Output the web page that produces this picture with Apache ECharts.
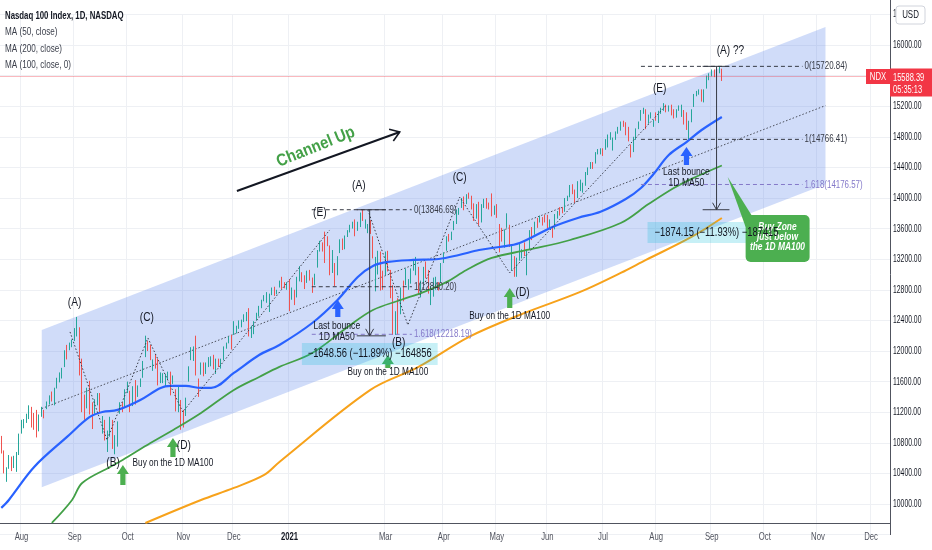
<!DOCTYPE html>
<html><head><meta charset="utf-8">
<script src="https://cdn.jsdelivr.net/npm/echarts@6/dist/echarts.min.js"></script>
<style>html,body{margin:0;padding:0;background:#fff}#c{width:932px;height:550px}</style>
</head><body><div id="c"></div>
<script>
// ---------- DATA ----------
const holidays = ['2020-09-07','2020-11-26','2020-12-25','2021-01-01','2021-01-18','2021-02-15','2021-04-02','2021-05-31','2021-07-05','2021-09-06','2021-11-25'];
const firstDay = [2020, 6, 22];
const barCount = 352;
const monthNames = ['Jan','Feb','Mar','Apr','May','Jun','Jul','Aug','Sep','Oct','Nov','Dec'];
const hiddenMonthLabels = ['2021-02'];
const yTicks = [10000,10400,10800,11200,11600,12000,12400,12800,13200,13600,14000,14400,14800,15200,15600,16000,16400];

// daily [open, close, low, high]
const jul20 = [[10760,10700,10660,10890],[10680,10420,10400,10700],[10350,10460,10290,10480],[10480,10610,10460,10640],[10600,10450,10430,10620],[10480,10600,10470,10630],[10500,10640,10420,10680],[10780,10910,10640,10920]];
const aug20 = [[10940,11060,10920,11100],[11030,11090,10990,11110],[11120,11140,11060,11180],[11130,11270,11110,11290],[11250,11140,11000,11270],[11180,11110,10970,11190],[11150,10880,10870,11230],[10960,11150,10950,11170],[11170,11200,11140,11270],[11200,11190,11120,11230],[11250,11320,11240,11340],[11340,11410,11300,11420],[11410,11360,11340,11470],[11300,11500,11290,11520],[11530,11620,11510,11650],[11680,11690,11590,11720],[11690,11770,11640,11780],[11800,12000,11790,12010],[12030,12020,11890,12080],[12050,12080,12010,12110],[12090,12110,12050,12150]];
const sep20 = [[12160,12290,12130,12300],[12320,12420,12190,12445],[12300,11770,11680,12310],[11750,11620,11200,11900],[11380,11140,11100,11430],[11280,11450,11250,11520],[11520,11210,11170,11610],[11280,11090,10980,11330],[11230,11230,11180,11370],[11330,11370,11290,11450],[11400,11220,11200,11450],[11030,11080,10920,11150],[11080,10940,10830,11100],[10800,10940,10680,10960],[10980,11120,10880,11140],[11090,10740,10720,11100],[10700,10810,10650,10900],[10800,11060,10750,11080],[11230,11300,11180,11330],[11290,11260,11200,11330],[11300,11420,11270,11500]];
const oct20 = [[11520,11560,11450,11600],[11380,11250,11200,11480],[11290,11530,11280,11540],[11550,11330,11300,11620],[11420,11530,11400,11550],[11580,11600,11530,11640],[11660,11860,11650,11870],[11950,12090,11920,12200],[12090,12050,12000,12130],[12060,11910,11880,12080],[11770,11860,11740,11890],[11900,11780,11770,11960],[11830,11580,11550,11900],[11640,11640,11580,11720],[11640,11640,11580,11710],[11650,11680,11530,11700],[11690,11720,11620,11730],[11670,11570,11420,11730],[11610,11650,11570,11680],[11480,11220,11210,11500],[11300,11400,11200,11540],[11340,11050,10970,11360]];
const nov20 = [[11120,11110,11000,11230],[11200,11320,11150,11390],[11620,11770,11600,11800],[11920,12000,11880,12050],[11980,12010,11870,12060],[12180,11700,11680,12200],[11580,11550,11400,11640],[11700,11800,11690,11850],[11790,11720,11670,11850],[11760,11830,11700,11850],[11810,11900,11790,11920],[11860,11880,11800,11930],[11900,11770,11760,11950],[11730,11880,11700,11900],[11870,11800,11790,11900],[11840,11860,11770,11900],[11920,12030,11880,12060],[12070,12080,12030,12110],[12120,12160,12100,12190],[12190,12130,12020,12210]];
const dec20 = [[12230,12320,12210,12390],[12290,12300,12230,12330],[12320,12340,12290,12400],[12330,12400,12310,12410],[12400,12450,12380,12480],[12430,12500,12390,12510],[12520,12230,12190,12560],[12190,12300,12170,12330],[12270,12380,12220,12390],[12420,12440,12400,12500],[12480,12580,12450,12590],[12590,12650,12560,12670],[12680,12710,12650,12730],[12740,12760,12630,12770],[12640,12740,12510,12750],[12750,12800,12730,12830],[12800,12730,12720,12840],[12760,12770,12740,12800],[12850,12900,12830,12920],[12930,12850,12810,12970],[12880,12850,12820,12900],[12860,12890,12800,12900]];
const jan21 = [[12920,12690,12520,12940],[12690,12800,12670,12830],[12650,12620,12600,12800],[12710,12940,12700,12970],[12990,13100,12910,13110],[13000,12930,12900,13030],[12950,12900,12810,12990],[12910,13010,12890,13050],[13020,12930,12920,13060],[12900,12800,12760,12960],[12880,13000,12860,13010],[13110,13300,13090,13320],[13340,13420,13300,13440],[13380,13370,13300,13420],[13480,13440,13150,13560],[13460,13400,13370,13500],[13370,13030,12990,13380],[13080,13150,13020,13320],[13100,12930,12850,13150]];
const feb21 = [[13000,13200,12990,13240],[13300,13400,13280,13460],[13450,13340,13320,13470],[13370,13500,13330,13510],[13540,13550,13490,13580],[13590,13640,13550,13650],[13610,13640,13600,13690],[13700,13580,13500,13720],[13640,13660,13570,13690],[13650,13800,13620,13810],[13830,13770,13700,13847],[13680,13700,13600,13720],[13620,13630,13540,13660],[13690,13550,13530,13710],[13450,13220,13210,13500],[13030,13200,12780,13230],[13140,13300,13000,13310],[13230,12830,12790,13300],[12950,12900,12800,13050]];
const mar21 = [[13020,13290,12990,13300],[13290,13060,13040,13310],[13040,12700,12690,13060],[12700,12300,12210,12860],[12370,12490,12210,12520],[12520,12300,12218,12690],[12500,12790,12480,12830],[12880,12740,12650,12920],[12900,13050,12860,13080],[12900,12920,12800,12940],[12930,13070,12880,13080],[13120,13130,13050,13200],[13080,13180,12990,13230],[13080,12750,12740,13100],[12770,12870,12700,12920],[12880,13070,12880,13100],[13080,12970,12950,13170],[13030,12770,12750,13060],[12740,12800,12600,12850],[12820,12950,12710,12960],[12900,12920,12800,12970],[12880,12860,12790,12900],[12900,13090,12900,13150]];
const apr21 = [[13170,13270,13150,13290],[13320,13480,13310,13500],[13470,13470,13430,13530],[13470,13530,13450,13560],[13610,13690,13580,13700],[13680,13850,13660,13850],[13800,13850,13780,13870],[13880,13990,13870,14000],[14000,13850,13840,14020],[13930,14040,13920,14050],[14060,14040,13990,14070],[14000,13910,13850,14030],[13910,13790,13700,13930],[13750,13910,13730,13920],[13900,13680,13640,13950],[13690,13860,13680,13920],[13880,13980,13870,13990],[13990,13890,13860,14000],[13900,13890,13850,13940],[14010,13920,13760,14060],[13830,13860,13780,13900]];
const may21 = [[13900,13750,13740,13920],[13650,13500,13290,13660],[13570,13460,13430,13610],[13480,13580,13350,13590],[13620,13720,13610,13800],[13630,13370,13360,13650],[13130,13340,13050,13380],[13180,12990,12970,13240],[13080,13100,12970,13220],[13190,13400,13180,13420],[13310,13320,13210,13330],[13340,13250,13240,13420],[13050,13300,12990,13330],[13330,13540,13320,13580],[13580,13470,13450,13620],[13530,13660,13520,13690],[13720,13680,13610,13740],[13700,13740,13680,13770],[13740,13710,13640,13750],[13750,13690,13680,13780]];
const jun21 = [[13760,13650,13600,13780],[13680,13700,13600,13720],[13590,13550,13480,13610],[13600,13770,13590,13790],[13750,13820,13730,13830],[13860,13830,13770,13880],[13850,13820,13800,13880],[13850,13980,13820,14000],[13990,14020,13960,14030],[14030,14160,14010,14170],[14160,14070,14050,14180],[14090,14030,13940,14110],[14040,14200,14000,14220],[14160,14170,14090,14240],[14150,14190,14070,14200],[14190,14320,14160,14340],[14330,14350,14300,14400],[14400,14450,14380,14470],[14460,14430,14380,14470],[14460,14590,14450,14600],[14600,14610,14570,14640],[14600,14620,14570,14650]];
const jul21 = [[14630,14600,14550,14650],[14640,14760,14630,14770],[14790,14800,14660,14830],[14820,14830,14760,14860],[14700,14760,14620,14790],[14780,14850,14760,14870],[14870,14920,14840,14930],[14910,14950,14880,15000],[14990,14980,14930,15010],[14970,14870,14820,14990],[14900,14760,14740,14930],[14640,14600,14530,14700],[14640,14760,14600,14800],[14790,14900,14760,14910],[14920,14990,14900,15000],[15030,15140,15010,15150],[15130,15160,15100,15180],[15150,15000,14900,15160],[15030,15050,14970,15090],[15060,15080,15040,15120],[14960,15000,14930,15020]];
const aug21 = [[15070,15050,15010,15120],[15050,15130,14980,15140],[15120,15150,15100,15180],[15160,15230,15140,15240],[15200,15160,15120,15220],[15170,15180,15130,15210],[15200,15110,15080,15220],[15150,15080,15040,15160],[15090,15150,15050,15160],[15160,15200,15140,15210],[15170,15210,15060,15220],[15140,15060,14960,15150],[15070,14900,14890,15120],[14820,14960,14766,15010],[15000,15140,14990,15160],[15200,15340,15190,15360],[15350,15370,15330,15400],[15380,15390,15350,15420],[15380,15270,15260,15420],[15280,15400,15250,15420],[15440,15580,15430,15600],[15600,15610,15540,15630]];
const sep21 = [[15630,15630,15590,15680],[15660,15620,15580,15680],[15620,15660,15590,15690],[15660,15690,15630,15721],[15680,15588.39,15530,15690]];

// moving averages: [bar index, value]
const ma50 = [[0,9949],[3,10053],[13,10484],[26,10877],[35,11138],[40,11203],[46,11230],[55,11360],[63,11517],[67,11543],[73,11543],[79,11517],[83,11517],[92,11713],[102,11948],[110,12079],[123,12366],[133,12667],[141,12968],[147,13112],[153,13164],[163,13190],[173,13203],[181,13255],[189,13320],[197,13360],[205,13412],[218,13621],[228,13739],[237,13820],[247,13987],[253,14131],[258,14314],[264,14562],[271,14732],[277,14889],[285,15059]];
const ma100 = [[20,9752],[28,10053],[32,10275],[43,10484],[48,10576],[59,10798],[68,10968],[79,11190],[92,11491],[102,11661],[110,11792],[123,11974],[137,12314],[147,12536],[158,12667],[167,12770],[176,12900],[184,13059],[194,13216],[208,13321],[225,13451],[245,13673],[256,13920],[266,14130],[273,14250],[285,14425]];
const ma200 = [[57,9752],[79,10053],[92,10210],[104,10380],[110,10550],[146,11491],[165,11791],[185,12184],[205,12471],[229,12772],[245,13020],[255,13190],[273,13491],[285,13739]];

const lastPrice = 15588.39, countdown = '05:35:13', ticker = 'NDX';
const titleLines = ['Nasdaq 100 Index, 1D, NASDAQ','MA (50, close)','MA (200, close)','MA (100, close, 0)'];

// channel (bar index, price)
const channelPts = [[16,12275],[326,16235],[326,14180],[16,10220]];
const channelMid = [[16,11248],[326,15208]];
// zigzag pivots
const zigzagA = [[27.2,12249],[41.8,10837],[58.0,12170],[71.8,11203],[129.9,13582]];
const zigzagB = [[145,13843],[160.8,12340],[181.3,14013],[201.1,13020],[263.1,15216]];
const waveLabels = [[29,12630,'(A)'],[44.2,10537,'(B)'],[57.6,12445,'(C)'],[72.2,10772,'(D)'],[126,13817,'(E)'],[141.4,14170,'(A)'],[157.2,12118,'(B)'],[181.3,14275,'(C)'],[206.2,12772,'(D)'],[260.4,15438,'(E)'],[288.4,15935,'(A) ??']];
const noteLabels = [[67.9,10537,'Buy on the 1D MA100'],[152.9,11726,'Buy on the 1D MA100'],[201.1,12458,'Buy on the 1D MA100']];
const bounceLabels = [[132.7,12327,12184],[271,14340,14196]];
const buyArrows = [[48.1,10249,10510],[67.9,10615,10863],[152.9,11778,11948],[201.1,12563,12824]];
const bounceArrows = [[133.1,12445,12667],[271,14432,14667]];
const fibSets = [
  {from:122.8, to:162.4, levels:[['0',13846.69],['1',12840.20],['1.618',12218.19]]},
  {from:253, to:316.9, levels:[['0',15720.84],['1',14766.41],['1.618',14176.57]]}
];
const measures = [
  {x:145.7, top:13846.69, bot:12198.13, barL:140.6, barR:152.1, boxL:118.9, boxR:172.6, boxTop:12105, boxBot:11817, text:'\u22121648.56 (\u221211.89%) \u2212164856'},
  {x:282.9, top:15720.84, bot:13846.69, barL:277.4, barR:288.0, boxL:255.6, boxR:309.8, boxTop:13687, boxBot:13412, text:'\u22121874.15 (\u221211.93%) \u2212187415'}
];
const callout = {box:[294.4,13778,319.7,13164], tail:[[287.3,14275],[296.7,13778],[294.4,13620]], lines:[[307,13625,'Buy Zone'],[307,13490,'just below'],[307,13360,'the 1D MA100']]};
const channelText = [124.4,14667,'Channel Up'];
const channelArrow = [[93.2,14092],[157.6,14863]];

// ---------- BUILD ----------
function buildDates(){
  const out=[]; const d=new Date(Date.UTC(firstDay[0],firstDay[1],firstDay[2]));
  while(out.length<barCount){
    const wd=d.getUTCDay(); const s=d.toISOString().slice(0,10);
    if(wd!==0&&wd!==6&&holidays.indexOf(s)<0) out.push(s);
    d.setUTCDate(d.getUTCDate()+1);
  }
  return out;
}
const dates = buildDates();
const ohlc = [].concat(jul20,aug20,sep20,oct20,nov20,dec20,jan21,feb21,mar21,apr21,may21,jun21,jul21,aug21,sep21);
function isMonthStart(i){
  if(i<=0) return false;
  const m=dates[i].slice(0,7);
  return m!==dates[i-1].slice(0,7) && hiddenMonthLabels.indexOf(m)<0;
}
const FONT = '"Liberation Sans", Arial, sans-serif';
const X_OFFSET = -11.6;
const Y_MIN = 9600, Y_MAX = 16400;

function mkP(api){
  return function(i,v){
    const f=Math.floor(i), t=i-f; const a=api.coord([f,v]);
    if(!t) return a;
    const b=api.coord([f+1,v]); return [a[0]+(b[0]-a[0])*t, a[1]];
  };
}
function chevron(S,E,len,ang){
  const dx=E[0]-S[0], dy=E[1]-S[1], m=Math.hypot(dx,dy), ux=dx/m, uy=dy/m;
  const r=a=>[E[0]-len*(ux*Math.cos(a)-uy*Math.sin(a)), E[1]-len*(ux*Math.sin(a)+uy*Math.cos(a))];
  return [r(ang),E,r(-ang)];
}
function upArrow(x,yt,yb){
  const hw=6, sw=2.6, hh=9;
  return [[x,yt],[x+hw,yt+hh],[x+sw,yt+hh],[x+sw,yb],[x-sw,yb],[x-sw,yt+hh],[x-hw,yt+hh]];
}

function renderChannel(params, api){
  const P=mkP(api);
  return {type:'group', children:[
    {type:'polygon', shape:{points:channelPts.map(p=>P(p[0],p[1]))}, style:{fill:'rgba(99,140,236,0.30)'}},
    {type:'polyline', shape:{points:channelMid.map(p=>P(p[0],p[1]))}, style:{stroke:'#4a4e5a', lineWidth:1, lineDash:[1.5,2], fill:null}}
  ]};
}

function renderAnno(params, api){
  const P=mkP(api);
  const kids=[];
  const T=(pt,str,o)=>{ o=o||{};
    kids.push({type:'text', x:pt[0]+(o.dx||0), y:pt[1]+(o.dy||0), scaleX:o.sx||0.78, rotation:o.rot||0, z2:o.z2||20,
      style:{text:str, x:0, y:0, fill:o.fill||'#131722', font:(o.style||'')+' '+(o.weight||'normal')+' '+(o.size||11)+'px '+FONT,
        align:o.align||'center', textAlign:o.align||'center', verticalAlign:'middle', textVerticalAlign:'middle'}});
  };
  const L=(pts,o)=>kids.push({type:'polyline', shape:{points:pts}, z2:o.z2||5, style:{stroke:o.stroke||'#131722', lineWidth:o.w||1, lineDash:o.dash||null, fill:null}});
  const G=(pts,fill,z2)=>kids.push({type:'polygon', shape:{points:pts}, z2:z2||6, style:{fill:fill}});

  // zigzags
  [zigzagA,zigzagB].forEach(z=>L(z.map(p=>P(p[0],p[1])),{stroke:'#3a3e4a',dash:[1.5,2]}));
  // channel up arrow + text
  const s=P(channelArrow[0][0],channelArrow[0][1]), e=P(channelArrow[1][0],channelArrow[1][1]);
  L([s,e],{w:2});
  L(chevron(s,e,11,0.6),{w:1.6});
  T(P(channelText[0],channelText[1]), channelText[2], {size:17, weight:'bold', fill:'#43a047', rot:22*Math.PI/180, sx:0.88});
  // fib levels
  fibSets.forEach(f=>f.levels.forEach(l=>{
    const col = l[0]==='1.618' ? '#8479c9' : '#363a45';
    L([P(f.from,l[1]),P(f.to,l[1])],{stroke:col,dash:[4,3]});
    T(P(f.to,l[1]), l[0]+'('+l[1].toFixed(2)+')', {align:'left', dx:2, sx:0.72, fill:col, size:11});
  }));
  // arrows (under measure box)
  buyArrows.forEach(a=>{ const t=P(a[0],a[2]), b=P(a[0],a[1]); G(upArrow(t[0],t[1],b[1]),'#4caf50'); });
  bounceArrows.forEach(a=>{ const t=P(a[0],a[2]), b=P(a[0],a[1]); G(upArrow(t[0],t[1],b[1]),'#2962ff'); });
  // measures
  measures.forEach(m=>{
    const a=P(m.boxL,m.boxTop), b=P(m.boxR,m.boxBot);
    kids.push({type:'rect', z2:7, shape:{x:a[0],y:a[1],width:b[0]-a[0],height:b[1]-a[1]}, style:{fill:'rgba(0,188,212,0.22)'}});
    const t=P(m.x,m.top), bt=P(m.x,m.bot);
    L([t,bt],{stroke:'#363a45'});
    L([P(m.barL,m.top),P(m.barR,m.top)],{stroke:'#363a45'});
    L([P(m.barL,m.bot),P(m.barR,m.bot)],{stroke:'#363a45'});
    L([[bt[0]-4,bt[1]-7],bt,[bt[0]+4,bt[1]-7]],{stroke:'#363a45'});
  });
  // callout
  const c1=P(callout.box[0],callout.box[1]), c2=P(callout.box[2],callout.box[3]);
  G(callout.tail.map(p=>P(p[0],p[1])),'#4caf50',8);
  kids.push({type:'rect', z2:8, shape:{x:c1[0],y:c1[1],width:c2[0]-c1[0],height:c2[1]-c1[1],r:5}, style:{fill:'#4caf50'}});
  callout.lines.forEach(l=>T(P(l[0],l[1]), l[2], {fill:'#ffffff', weight:'bold', style:'italic', size:10.5, sx:0.8}));
  measures.forEach(m=>T(P(m.x,(m.boxTop+m.boxBot)/2), m.text, {size:12, sx:0.78, fill:'#131722'}));
  // labels
  waveLabels.forEach(w=>T(P(w[0],w[1]), w[2], {size:13, sx:0.78}));
  noteLabels.forEach(n=>T(P(n[0],n[1]), n[2], {size:11, sx:0.75}));
  bounceLabels.forEach(b=>{ T(P(b[0],b[1]),'Last bounce',{size:11,sx:0.78}); T(P(b[0],b[2]),'1D MA50',{size:11,sx:0.78}); });

  // axis labels (drawn as text at scale positions)
  const W=api.getWidth();
  const rightX = W-42;
  L([[rightX+0.5,0],[rightX+0.5,16]],{stroke:'#50535e'});
  yTicks.forEach(v=>T([rightX+3,P(0,v)[1]], v.toFixed(2), {align:'left', sx:0.62, size:11, fill:'#131722'}));
  const axisY = P(0,Y_MIN)[1]+X_OFFSET;
  for(let i=1;i<dates.length;i++){
    if(!isMonthStart(i)) continue;
    const m=+dates[i].slice(5,7);
    const isYear = m===1;
    T([P(i,Y_MIN)[0], axisY+14], isYear?dates[i].slice(0,4):monthNames[m-1], {size:11, sx:0.7, weight:isYear?'bold':'normal', fill:isYear?'#131722':'#50535e'});
  }
  // price tags
  const py=P(0,lastPrice)[1];
  kids.push({type:'rect', z2:30, shape:{x:rightX-24,y:py-7.5,width:24,height:15}, style:{fill:'#f23645'}});
  kids.push({type:'rect', z2:30, shape:{x:rightX,y:py-8,width:42,height:28}, style:{fill:'#f23645'}});
  T([rightX-12,py], ticker, {fill:'#fff', size:11, sx:0.7, z2:35});
  T([rightX+3,py+1], lastPrice.toFixed(2), {align:'left', fill:'#fff', size:11, sx:0.68, z2:35});
  T([rightX+3,py+13], countdown, {align:'left', fill:'#fff', size:11, sx:0.68, z2:35});
  // USD badge
  kids.push({type:'rect', z2:40, shape:{x:rightX+6,y:6,width:29,height:18,r:3}, style:{fill:'#ffffff', stroke:'#d1d4dc', lineWidth:1}});
  T([rightX+20.5,15], 'USD', {size:11, sx:0.72, z2:41});
  return {type:'group', children:kids};
}

const chart = echarts.init(document.getElementById('c'), null, {renderer:'canvas'});
chart.setOption({
  animation:false,
  backgroundColor:'#ffffff',
  grid:{left:0, right:42, top:14.4, bottom:15.4, containLabel:false},
  xAxis:{type:'category', data:dates, boundaryGap:true, offset:X_OFFSET,
    axisLine:{show:true, lineStyle:{color:'#50535e', width:1}}, axisTick:{show:false}, axisLabel:{show:false},
    splitLine:{show:true, interval:(i)=>isMonthStart(i), lineStyle:{color:'#eef0f4', width:1}}},
  yAxis:{type:'value', position:'right', min:Y_MIN, max:Y_MAX, interval:400,
    axisLine:{show:true, lineStyle:{color:'#50535e', width:1}}, axisTick:{show:false}, axisLabel:{show:false},
    splitLine:{show:true, lineStyle:{color:'#eef0f4', width:1}}},
  graphic: titleLines.map((t,k)=>({type:'text', z:100, x:5, y:16+k*16.3, scaleX:k===0?0.71:0.74,
    style:{text:t, x:0, y:0, fill:k===0?'#131722':'#3a3e4a', font:(k===0?'bold ':'')+'11px '+FONT, verticalAlign:'middle', textVerticalAlign:'middle'}})),
  series:[
    {type:'custom', renderItem:renderChannel, data:[[0,12000]], z:1, silent:true},
    {type:'candlestick', data:ohlc, barWidth:1.2, z:2,
      itemStyle:{color:'#26a69a', color0:'#ef5350', borderColor:'#26a69a', borderColor0:'#ef5350', borderWidth:1},
      markLine:{symbol:'none', silent:true, label:{show:false}, lineStyle:{color:'rgba(242,54,69,0.35)', type:'solid', width:1}, data:[{yAxis:lastPrice}]}},
    {type:'line', data:ma50.map(p=>[dates[p[0]],p[1]]), smooth:0.35, showSymbol:false, z:3, lineStyle:{color:'#2962ff', width:2.2}},
    {type:'line', data:ma100.map(p=>[dates[p[0]],p[1]]), smooth:0.35, showSymbol:false, z:3, lineStyle:{color:'#43a047', width:1.8}},
    {type:'line', data:ma200.map(p=>[dates[p[0]],p[1]]), smooth:0.35, showSymbol:false, z:3, lineStyle:{color:'#f7a21b', width:2}},
    {type:'custom', renderItem:renderAnno, data:[[0,12000]], z:5, clip:false, silent:true}
  ]
});
</script></body></html>
